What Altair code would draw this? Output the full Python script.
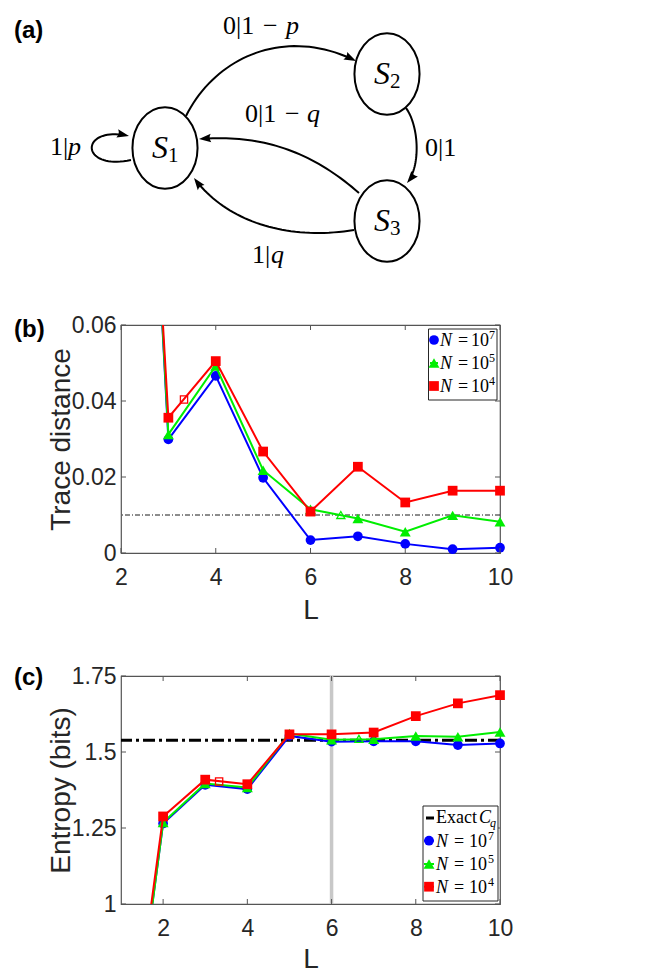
import math
import numpy as np
import pandas as pd
import altair as alt

# ---------------- panel (b): trace distance vs L ----------------
L_TD = [2, 3, 4, 5, 6, 7, 8, 9, 10]
TD_N7 = [0.265, 0.0299, 0.0466, 0.0198, 0.0034, 0.0044, 0.0024, 0.0010, 0.0014]
TD_N5 = [0.262, 0.0312, 0.0492, 0.0218, 0.0115, 0.0091, 0.0056, 0.0099, 0.0082]
TD_N4 = [0.250, 0.0356, 0.0505, 0.0267, 0.0109, 0.0227, 0.0133, 0.0164, 0.0164]
TD_THRESHOLD = 0.01
TD_OPEN_L = [3.33, 6.64]
TD_OPEN_V = [0.0404, 0.0100]
TD_OPEN_S = ["n4", "n5"]
TD_XTICKS = [2, 4, 6, 8, 10]
TD_YTICKS = [0, 0.02, 0.04, 0.06]

# ---------------- panel (c): entropy vs L ----------------
L_EN = [1, 2, 3, 4, 5, 6, 7, 8, 9, 10]
EN_N7 = [0.23, 1.265, 1.392, 1.378, 1.553, 1.534, 1.535, 1.535, 1.523, 1.528]
EN_N5 = [0.21, 1.268, 1.396, 1.383, 1.561, 1.540, 1.542, 1.553, 1.550, 1.566]
EN_N4 = [0.26, 1.288, 1.409, 1.394, 1.558, 1.558, 1.564, 1.618, 1.660, 1.687]
EXACT_CQ = 1.539
MARKED_L = 6
EN_OPEN_L = [3.33, 6.65]
EN_OPEN_V = [1.403, 1.543]
EN_OPEN_S = ["n4", "n5"]
EN_XTICKS = [2, 4, 6, 8, 10]
EN_YTICKS = [1, 1.25, 1.5, 1.75]

SERIES = ["n7", "n5", "n4"]
EXPONENTS = ["7", "5", "4"]

# ---------------- panel (a): state diagram ----------------
NODE_LABELS = ["1", "2", "3"]
NODE_X = [164, 386, 386]
NODE_Y = [147, 73, 220]
# cubic Bezier edges: start, control 1, control 2, end (arrow tip)
EDGE_P0 = [(185, 115), (405, 107), (358, 192), (353, 229), (130, 159)]
EDGE_C1 = [(215, 55), (418, 125), (310, 150), (285, 240), (78, 170)]
EDGE_C2 = [(285, 25), (420, 165), (260, 133), (225, 220), (78, 124)]
EDGE_P3 = [(355, 60), (406, 182), (198, 138), (193, 177), (128, 135)]
LABEL_UP = [("0|1", 222, 33), ("−", 262, 33), ("0|1", 244, 121), ("−", 284, 121),
            ("0|1", 424, 155), ("1|", 251, 262), ("1|", 49, 154)]
LABEL_IT = [("p", 285, 33), ("q", 306, 121), ("q", 270, 262), ("p", 67, 154)]

# ---------------- styles ----------------
SANS = "Liberation Sans"
SERIF = "Liberation Serif"
AXC = "#262626"
BOX = "#555555"
COLOR = {"n7": "#0000ff", "n5": "#00ee00", "n4": "#ff0000"}
SHAPE = {"n7": "circle", "n5": "triangle-up", "n4": "square"}
SIZE = {"n7": 95, "n5": 120, "n4": 95}
W, H = 379, 228
HA = 264
SPACING = 39
ELLIPSE = "M -0.8 0 A 0.8 1 0 1 0 0.8 0 A 0.8 1 0 1 0 -0.8 0 Z"
ARROW = "M 1 0 L -1 -0.7 Q -0.55 0 -1 0.7 Z"
ARROW_SIZE = 144

DUMMY = pd.DataFrame({"d": [0]})


def vtext(x, y, s, size, font=SERIF, style="normal", weight="normal", color="black"):
    return alt.Chart(DUMMY).mark_text(
        text=s, font=font, fontSize=size, fontStyle=style, fontWeight=weight,
        color=color, align="left", baseline="alphabetic"
    ).encode(x=alt.value(x), y=alt.value(y))


# =============== panel (a) ===============
xa = alt.Scale(domain=[120, 499], nice=False, zero=False)
ya = alt.Scale(domain=[8, 8 + HA], nice=False, zero=False, reverse=True)


def XA(f):
    return alt.X(f, type="quantitative", scale=xa, axis=None)


def YA(f):
    return alt.Y(f, type="quantitative", scale=ya, axis=None)


nodes_df = pd.DataFrame({"x": NODE_X, "y": NODE_Y})
ell = alt.Chart(nodes_df).mark_point(
    shape=ELLIPSE, size=6626, filled=False, color="black", strokeWidth=2, opacity=1
).encode(x=XA("x"), y=YA("y"))

rows = []
arrows = []
tt = np.linspace(0, 1, 41)
s_arrow = math.sqrt(ARROW_SIZE) / 2
for k in range(len(EDGE_P0)):
    p0, c1, c2, p3 = (np.array(EDGE_P0[k], float), np.array(EDGE_C1[k], float),
                      np.array(EDGE_C2[k], float), np.array(EDGE_P3[k], float))
    d = p3 - c2
    d = d / np.linalg.norm(d)
    for i, t in enumerate(tt):
        b = (1 - t) ** 3 * p0 + 3 * (1 - t) ** 2 * t * c1 + 3 * (1 - t) * t ** 2 * c2 + t ** 3 * p3
        if t > 0.5 and np.dot(p3 - b, d) < s_arrow * 1.2:
            b = p3 - d * s_arrow * 1.2
            rows.append({"edge": k, "i": i, "x": b[0], "y": b[1]})
            break
        rows.append({"edge": k, "i": i, "x": b[0], "y": b[1]})
    pos = p3 - d * s_arrow
    ang = math.degrees(math.atan2(d[1], d[0])) % 360
    arrows.append({"x": pos[0], "y": pos[1], "ang": ang})
curves_df = pd.DataFrame(rows)
arrows_df = pd.DataFrame(arrows)

curves = alt.Chart(curves_df).mark_line(color="black", strokeWidth=2).encode(
    x=XA("x"), y=YA("y"), detail="edge:N", order="i:Q")
heads = alt.Chart(arrows_df).mark_point(
    shape=ARROW, size=ARROW_SIZE, filled=True, color="black", opacity=1
).encode(x=XA("x"), y=YA("y"), angle=alt.Angle("ang:Q", scale=None))

up_df = pd.DataFrame(LABEL_UP, columns=["t", "x", "y"])
it_df = pd.DataFrame(LABEL_IT, columns=["t", "x", "y"])
t_up = alt.Chart(up_df).mark_text(font=SERIF, fontSize=26, align="left", baseline="alphabetic",
                                  color="black").encode(x=XA("x"), y=YA("y"), text="t:N")
t_it = alt.Chart(it_df).mark_text(font=SERIF, fontSize=26, fontStyle="italic", align="left",
                                  baseline="alphabetic", color="black").encode(x=XA("x"), y=YA("y"), text="t:N")
s_df = pd.DataFrame({"x": [nx - 13 for nx in NODE_X], "y": [ny + 10 for ny in NODE_Y], "t": ["S"] * 3})
sub_df = pd.DataFrame({"x": [nx + 3 for nx in NODE_X], "y": [ny + 14 for ny in NODE_Y], "t": NODE_LABELS})
t_s = alt.Chart(s_df).mark_text(font=SERIF, fontSize=32, fontStyle="italic", align="left",
                                baseline="alphabetic", color="black").encode(x=XA("x"), y=YA("y"), text="t:N")
t_sub = alt.Chart(sub_df).mark_text(font=SERIF, fontSize=21, align="left",
                                    baseline="alphabetic", color="black").encode(x=XA("x"), y=YA("y"), text="t:N")
lab_a = vtext(13 - 120, 37 - 8, "(a)", 24, font=SANS, weight="bold")

panel_a = alt.layer(curves, heads, ell, t_up, t_it, t_s, t_sub, lab_a).properties(
    width=W, height=HA, view=alt.ViewBackground(stroke="transparent"))


# =============== panels (b) and (c) ===============
def make_panel(Ls, vals, xdom, ydom, xticks, yticks, ytitle, title_y,
               open_L, open_V, open_S, under_layers, legend_layers, label, label_y):
    xs = alt.Scale(domain=xdom, nice=False, zero=False)
    ys = alt.Scale(domain=ydom, nice=False, zero=False)
    xaxis = alt.Axis(values=xticks, format="d", labelFontSize=23, labelPadding=13, labelColor=AXC,
                     labelFont=SANS, labelFlush=False, labelOverlap=False, ticks=False, tickSize=0,
                     domain=False, grid=False, title="L", titleFont=SANS, titleFontSize=28,
                     titleFontWeight="normal", titleColor=AXC, titleX=W / 2, titleY=title_y,
                     titleBaseline="alphabetic", titleAlign="center")
    yaxis = alt.Axis(values=yticks, format=".2~f", labelFontSize=23, labelPadding=5, labelColor=AXC,
                     labelFont=SANS, labelFlush=False, labelOverlap=False, ticks=False, tickSize=0,
                     domain=False, grid=False, title=ytitle, titleFont=SANS, titleFontSize=28,
                     titleFontWeight="normal", titleColor=AXC, titleX=-52, titleY=H / 2,
                     titleAngle=270, titleBaseline="alphabetic", titleAlign="center")

    def X(f):
        return alt.X(f, type="quantitative", scale=xs, axis=xaxis)

    def Y(f):
        return alt.Y(f, type="quantitative", scale=ys, axis=yaxis)

    layers = [u(X, Y) for u in under_layers]
    for s, v in zip(SERIES, vals):
        df = pd.DataFrame({"L": Ls, "v": v})
        layers.append(alt.Chart(df).mark_line(clip=True, color=COLOR[s], strokeWidth=2)
                      .encode(x=X("L"), y=Y("v")))
        dfp = df[(df.L >= xdom[0]) & (df.v >= ydom[0]) & (df.v <= ydom[1])]
        layers.append(alt.Chart(dfp).mark_point(shape=SHAPE[s], size=SIZE[s], filled=True,
                                                color=COLOR[s], opacity=1)
                      .encode(x=X("L"), y=Y("v")))
    for l, v, s in zip(open_L, open_V, open_S):
        dfo = pd.DataFrame({"L": [l], "v": [v]})
        layers.append(alt.Chart(dfo).mark_point(shape=SHAPE[s], size=SIZE[s] * 0.55, filled=False,
                                                color=COLOR[s], strokeWidth=1.3, opacity=1)
                      .encode(x=X("L"), y=Y("v")))
    # inward ticks on all four sides
    tx = pd.DataFrame({"t": xticks})
    ty = pd.DataFrame({"t": yticks})
    layers.append(alt.Chart(tx).mark_rule(color=BOX, strokeWidth=1)
                  .encode(x=X("t"), y=alt.value(H), y2=alt.value(H - 5)))
    layers.append(alt.Chart(tx).mark_rule(color=BOX, strokeWidth=1)
                  .encode(x=X("t"), y=alt.value(0), y2=alt.value(5)))
    layers.append(alt.Chart(ty).mark_rule(color=BOX, strokeWidth=1)
                  .encode(y=Y("t"), x=alt.value(0), x2=alt.value(5)))
    layers.append(alt.Chart(ty).mark_rule(color=BOX, strokeWidth=1)
                  .encode(y=Y("t"), x=alt.value(W), x2=alt.value(W - 5)))
    layers += legend_layers
    layers.append(vtext(-107, label_y, label, 24, font=SANS, weight="bold"))
    return alt.layer(*layers).properties(
        width=W, height=H, view=alt.ViewBackground(stroke=BOX, strokeWidth=1.2))


def legend(box, mx, my, nx, eqx, tenx, expx, line_x, extra=None):
    x1, x2, y1, y2 = box
    out = [alt.Chart(DUMMY).mark_rect(fill="white", stroke=AXC, strokeWidth=1)
           .encode(x=alt.value(x1), x2=alt.value(x2), y=alt.value(y1), y2=alt.value(y2))]
    if extra:
        out += extra
    for s, e, cy in zip(SERIES, EXPONENTS, my):
        out.append(alt.Chart(DUMMY).mark_rule(color=COLOR[s], strokeWidth=2)
                   .encode(x=alt.value(line_x[0]), x2=alt.value(line_x[1]), y=alt.value(cy)))
        out.append(alt.Chart(DUMMY).mark_point(shape=SHAPE[s], size=SIZE[s], filled=True,
                                               color=COLOR[s], opacity=1)
                   .encode(x=alt.value(mx), y=alt.value(cy)))
        out.append(vtext(nx, cy + 6, "N", 18, style="italic"))
        out.append(vtext(eqx, cy + 6, "=", 18))
        out.append(vtext(tenx, cy + 6, "10", 18))
        out.append(vtext(expx, cy - 1, e, 12))
    return out


thr = lambda X, Y: alt.Chart(pd.DataFrame({"y": [TD_THRESHOLD]})).mark_rule(
    color="black", strokeWidth=0.9, strokeDash=[5, 2, 1, 2]).encode(y=Y("y"))

leg_b = legend((307.5, 376, 4, 75), 313, [15, 38, 61], 319, 337, 350, 368, (309, 317))
panel_b = make_panel(L_TD, [TD_N7, TD_N5, TD_N4], [2, 10], [0, 0.06], TD_XTICKS, TD_YTICKS,
                     "Trace distance", 65, TD_OPEN_L, TD_OPEN_V, TD_OPEN_S, [thr], leg_b, "(b)", 11.5)

vline = lambda X, Y: alt.Chart(pd.DataFrame({"x": [MARKED_L]})).mark_rule(
    color="#c8c8c8", strokeWidth=3.5).encode(x=X("x"))
exact = lambda X, Y: alt.Chart(pd.DataFrame({"y": [EXACT_CQ]})).mark_rule(
    color="black", strokeWidth=3, strokeDash=[12, 4, 3, 4]).encode(y=Y("y"))

exact_leg = [
    alt.Chart(DUMMY).mark_rule(color="black", strokeWidth=3)
    .encode(x=alt.value(305), x2=alt.value(313), y=alt.value(142)),
    vtext(315, 147, "Exact", 18),
    vtext(358, 147, "C", 18, style="italic"),
    vtext(369, 151, "q", 12, style="italic"),
]
leg_c = legend((302, 377, 130, 225), 308, [164.7, 188, 210.7], 315, 333, 348, 367, (303, 313),
               extra=exact_leg)
panel_c = make_panel(L_EN, [EN_N7, EN_N5, EN_N4], [1, 10], [1, 1.75], EN_XTICKS, EN_YTICKS,
                     "Entropy (bits)", 63, EN_OPEN_L, EN_OPEN_V, EN_OPEN_S, [vline, exact],
                     leg_c, "(c)", 9)

chart = alt.vconcat(panel_a, panel_b, panel_c, spacing=SPACING).properties(
    padding={"left": 5, "top": 0, "right": 5, "bottom": 0}
).configure(font=SANS).configure_view(stroke="transparent")

chart.save("out.html", embed_options={"renderer": "svg", "actions": False})
